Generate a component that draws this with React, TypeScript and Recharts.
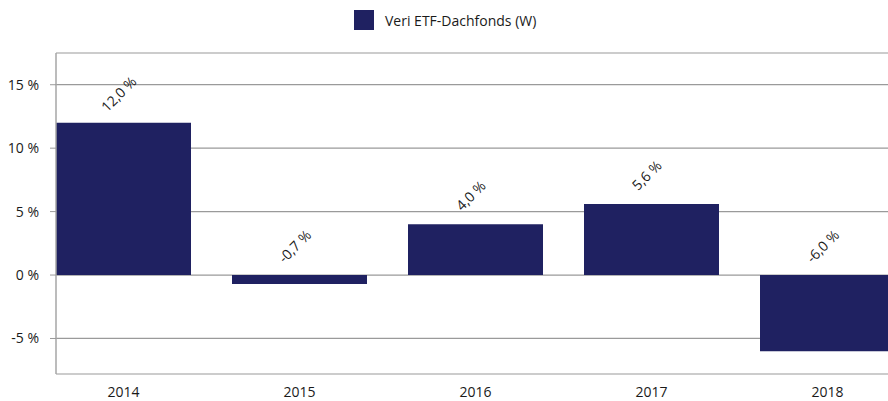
import { Bar, BarChart, CartesianGrid, LabelList, XAxis, YAxis } from "recharts";

const years = ["2014", "2015", "2016", "2017", "2018"];
const returns = [12.0, -0.7, 4.0, 5.6, -6.0];
const yTicks = [-5, 0, 5, 10, 15];
const seriesName = "Veri ETF-Dachfonds (W)";

const data = years.map((year, i) => ({ year, value: returns[i] }));

const BAR_COLOR = "#1f2161";
const FONT = "'Open Sans', sans-serif";

const fmtPct = (v: number) => `${v.toFixed(1).replace(".", ",")} %`;

const ValueLabel = (props: any) => {
  const { x, y, width, height, value } = props;
  const top = Math.min(y, y + height);
  const cx = x + width / 2 - 5;
  const cy = top - 29;
  return (
    <text
      x={cx}
      y={cy}
      transform={`rotate(-45, ${cx}, ${cy})`}
      textAnchor="middle"
      dominantBaseline="central"
      fontSize={14}
      fontFamily={FONT}
      fill="#1a1a1a"
    >
      {fmtPct(value)}
    </text>
  );
};

const App = () => {
  return (
    <div
      style={{
        position: "absolute",
        left: 0,
        top: 0,
        width: 888,
        height: 401,
        overflow: "hidden",
        background: "#fff",
        fontFamily: FONT,
      }}
    >
      <div
        style={{
          position: "absolute",
          left: 354,
          top: 10,
          display: "flex",
          alignItems: "center",
          gap: 11,
          fontSize: 14,
          color: "#1a1a1a",
          whiteSpace: "nowrap",
        }}
      >
        <div style={{ width: 20, height: 20, background: BAR_COLOR }} />
        <span>{seriesName}</span>
      </div>
      <BarChart
        width={888}
        height={401}
        data={data}
        margin={{ top: 53, right: 0, bottom: 0, left: 0 }}
        barCategoryGap={20.5}
      >
        <CartesianGrid horizontal vertical={false} stroke="#9a9a9a" strokeWidth={1.2} />
        <XAxis
          dataKey="year"
          height={27}
          axisLine={false}
          tickLine={false}
          padding={{ left: -20.5, right: -27.5 }}
          tick={{ fontSize: 14, fill: "#1a1a1a", fontFamily: FONT }}
          tickMargin={7}
        />
        <YAxis
          width={56}
          domain={[-7.8, 17.5]}
          ticks={yTicks}
          interval={0}
          tickFormatter={(v: number) => `${v} %`}
          axisLine={{ stroke: "#a6a6a6", strokeWidth: 1.5 }}
          tickLine={{ stroke: "#9a9a9a" }}
          tickSize={6}
          tickMargin={11}
          tick={{ fontSize: 14, fill: "#1a1a1a", fontFamily: FONT }}
        />
        <Bar dataKey="value" fill={BAR_COLOR} isAnimationActive={false}>
          <LabelList dataKey="value" content={<ValueLabel />} />
        </Bar>
      </BarChart>
    </div>
  );
};

export default App;
